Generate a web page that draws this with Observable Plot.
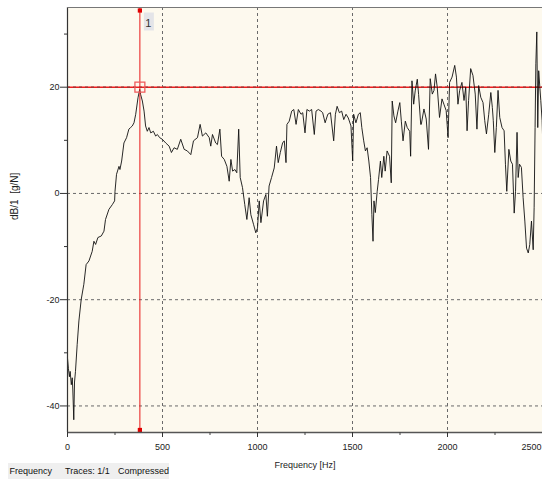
<!DOCTYPE html>
<html><head><meta charset="utf-8">
<script src="https://cdn.jsdelivr.net/npm/d3@7"></script>
<script src="https://cdn.jsdelivr.net/npm/@observablehq/plot@0.6"></script>
<style>
body{margin:0;background:#fff;}
#wrap{position:relative;width:542px;height:480px;}
#status{position:absolute;left:8px;top:463px;width:161px;height:16px;background:#efefef;font:9px "Liberation Sans",Arial,sans-serif;color:#111;}
#status span{position:absolute;top:3px;white-space:pre;}
</style></head><body>
<div id="wrap"><div id="status"></div></div>
<script>
const freq = [0,5,10,14,20,25,28,33,37,42,51,60,72,86,98,113,130,139,148,160,178,192,200,218,236,248,250,258,271,276,285,297,311,323,332,341,350,359,371,380,385,394,403,411,420,429,438,452,464,473,485,499,517,535,547,561,578,
596,614,631,649,663,684,698,710,728,746,754,763,780,789,802,811,825,839,851,860,869,881,891,901,909,921,933,944,956,965,979,991,1000,1009,1018,1032,1044,1052,1061,1074,1088,1100,1109,1120,1132,1141,1150,1155,1167,1180,1191,1203,1215,1229,1238,1250,1260,1273,
1285,1299,1308,1320,1334,1343,1356,1370,1384,1401,1410,1419,1431,1443,1454,1466,1478,1492,1501,1506,1518,1531,1541,1549,1559,1568,1577,1586,1595,1602,1608,1613,1620,1630,1637,1647,1654,1665,1672,1682,1695,1704,1709,1718,1727,1739,1749,1757,1766,1778,1788,1801,1806,1813,1822,1830,1841,1848,1859,
1862,1876,1888,1900,1909,1920,1929,1937,1946,1958,1971,1981,1993,2003,2011,2024,2038,2047,2055,2064,2076,2087,2096,2103,2111,2122,2134,2146,2155,2164,2175,2187,2196,2205,2217,2228,2236,2241,2249,2257,2266,2275,2287,2298,2305,2312,2323,2333,2342,2351,2358,2366,2372,2379,2389,2398,2407,2416,2425,2433,2442,2451,2456,2461,2465,2470,2475,2480,2486,2491,2498,2500];
const level = [-31,-33,-34.5,-33.5,-36,-34.7,-37,-42.6,-35.5,-33.5,-28.4,-24,-20,-17.1,-13.4,-12.7,-10.9,-9,-9.6,-8.3,-8,-7.1,-4.9,-3,-2.1,-1.4,0.4,3.6,5.1,4.5,6.1,9.5,10.5,12.1,12.4,12.7,13.3,14.9,18,19.6,18.6,17.4,15.5,12.7,11.7,12.4,11.4,11.7,10.8,11.1,10.5,10.2,9.5,8.9,7.7,8.6,8.3,
10.2,8.3,8,7.3,9.9,10.5,13,10.8,11.4,10.5,8.9,11.1,9.5,9.2,12.1,7,6.4,5.1,2.3,6.4,4.2,4.5,3.9,12.1,3,1.1,-2.1,-4.9,-0.8,-4,-5.8,-7.4,-6.5,-1.4,-5.5,-1.4,-0.2,-4.3,1.4,3,4.8,8.9,5.8,7.7,9.5,9.9,5.8,13,13.6,15.5,15.8,13,15.8,14.9,15.2,11.4,15.8,15.5,
15.8,11.1,15.5,15.8,15.5,15.2,13.3,14.9,15.2,9.9,14.9,16.4,15.2,15.5,13.9,14.9,14.2,12.7,6.1,14.9,13.3,14.9,15.2,12.4,9.9,8,8.6,6.1,3,-4,-9,-1.4,-3.6,0.4,2.6,6.1,3,7,4.2,8,7,2,17.4,14.6,13.3,15.5,17.1,13.6,9.9,13.6,12.4,11.7,7,21.2,16.8,19.3,21.5,18.6,13,
13,15.9,14,8.3,21.6,18.7,19.4,22.5,20,14.3,17.8,16.8,15.6,10.5,20.9,21.9,24.1,21.9,16.8,19.4,20.9,17.5,20,11.8,17.5,23.5,22.2,18.7,12.1,20.3,18.1,17.1,13.7,11.2,14.9,19,16.2,13.7,7.7,12.4,19.4,14.3,12.4,11.8,5.5,0.4,8.3,6.1,5.5,-3.7,0.4,11.5,3,5.5,4.9,-0.8,-5.2,-10.3,-11.2,-9.6,-5.2,-10.6,-2.7,12.4,24.4,30.4,12.4,23.1,20,17.5,13.7,11.2];

const xDomain = [0, 2500];
const yDomain = [-45, 35];
const xMajorTicks = [0, 500, 1000, 1500, 2000, 2500];
const xGrid = [500, 1000, 1500, 2000];
const xMinorTicks = [250, 750, 1250, 1750, 2250];
const yMajorTicks = [20, 0, -20, -40];
const yMinorTicks = [30, 10, -10, -30];
const cursorFreq = [381];
const cursorLevel = [20];
const cursorLabel = ["1"];
const xTitle = ["Frequency [Hz]"];
const yTitle = ["dB/1  [g/N]"];
const statusItems = ["Frequency", "Traces: 1/1", "Compressed"];
const statusLeft = [1.5, 57, 110];

const trace = freq.map((f, i) => ({f, v: level[i]}));
const cursorPts = cursorFreq.map((f, i) => ({f, v: cursorLevel[i]}));
const bg = "#fdf9ee";
const gridStyle = {stroke: "#6a6a6a", strokeOpacity: 1, strokeDasharray: "3,3"};
const labelBox = {draw(ctx) { ctx.rect(-5, -9, 10, 18); }};
const plain = d => String(d);
const innerLabels = xMajorTicks.slice(0, -1);
const edgeLabels = xMajorTicks.slice(-1);

const chart = Plot.plot({
  width: 542, height: 480,
  marginLeft: 67, marginRight: 0, marginTop: 7, marginBottom: 48,
  style: {fontFamily: "'Liberation Sans', Arial, sans-serif", fontSize: "9px", color: "#222", background: "#fff"},
  x: {domain: xDomain},
  y: {domain: yDomain},
  marks: [
    Plot.frame({fill: bg, stroke: null}),
    Plot.gridX(xGrid, gridStyle),
    Plot.gridY(yMajorTicks, gridStyle),
    Plot.ruleY(cursorLevel, {stroke: "#f01c1c", strokeWidth: 1.6}),
    Plot.gridY(cursorLevel, {...gridStyle, stroke: "#8a3a3a"}),
    Plot.line(trace, {x: "f", y: "v", stroke: "#111", strokeWidth: 0.9}),
    Plot.ruleX(cursorFreq, {stroke: "#e81818", strokeWidth: 1}),
    Plot.dot(cursorPts, {x: "f", y: "v", symbol: "square", r: 5.6, stroke: "#f05a5a", strokeWidth: 1.3, fill: "none"}),
    Plot.dot(cursorFreq, {x: d => d, frameAnchor: "top", dy: 3, symbol: "square", r: 2.4, fill: "#e00000", stroke: null}),
    Plot.dot(cursorFreq, {x: d => d, frameAnchor: "bottom", dy: -2.5, symbol: "square", r: 2.4, fill: "#e00000", stroke: null}),
    Plot.dot(cursorFreq, {x: d => d, frameAnchor: "top", dx: 9, dy: 14, symbol: labelBox, r: 1, fill: "#e4e4e8", stroke: null}),
    Plot.text(cursorLabel, {x: (d, i) => cursorFreq[i], text: d => d, frameAnchor: "top", dx: 8.5, dy: 12, fontSize: 11, fill: "#333"}),
    Plot.ruleX([xDomain[0]], {stroke: "#333", strokeWidth: 1.2}),
    Plot.ruleY([yDomain[0]], {stroke: "#555", strokeWidth: 1.6}),
    Plot.ruleY([yDomain[1]], {stroke: "#777", strokeWidth: 1}),
    Plot.axisY(yMajorTicks, {tickSize: 7, tickPadding: 1, label: null, tickFormat: plain, stroke: "#333", fill: "#222"}),
    Plot.axisY(yMinorTicks, {tickSize: 3, label: null, tickFormat: () => "", stroke: "#333"}),
    Plot.axisX(xMajorTicks, {tickSize: 5, label: null, tickFormat: () => "", stroke: "#333"}),
    Plot.axisX(innerLabels, {tickSize: 0, tickPadding: 11, label: null, tickFormat: plain, fill: "#222"}),
    Plot.axisX(edgeLabels, {tickSize: 0, tickPadding: 11, dx: -11, label: null, tickFormat: plain, fill: "#222"}),
    Plot.axisX(xMinorTicks, {tickSize: 3, label: null, tickFormat: () => "", stroke: "#444"}),
    Plot.text(xTitle, {text: d => d, frameAnchor: "bottom", dy: 35, fill: "#222"}),
    Plot.text(yTitle, {text: d => d, frameAnchor: "left", dx: -53, rotate: -90, fontSize: 10, fill: "#222"})
  ]
});
const wrap = document.getElementById("wrap");
wrap.insertBefore(chart, wrap.firstChild);
const status = document.getElementById("status");
statusItems.forEach((s, i) => {
  const sp = document.createElement("span");
  sp.textContent = s;
  sp.style.left = statusLeft[i] + "px";
  status.appendChild(sp);
});
</script>
</body></html>
